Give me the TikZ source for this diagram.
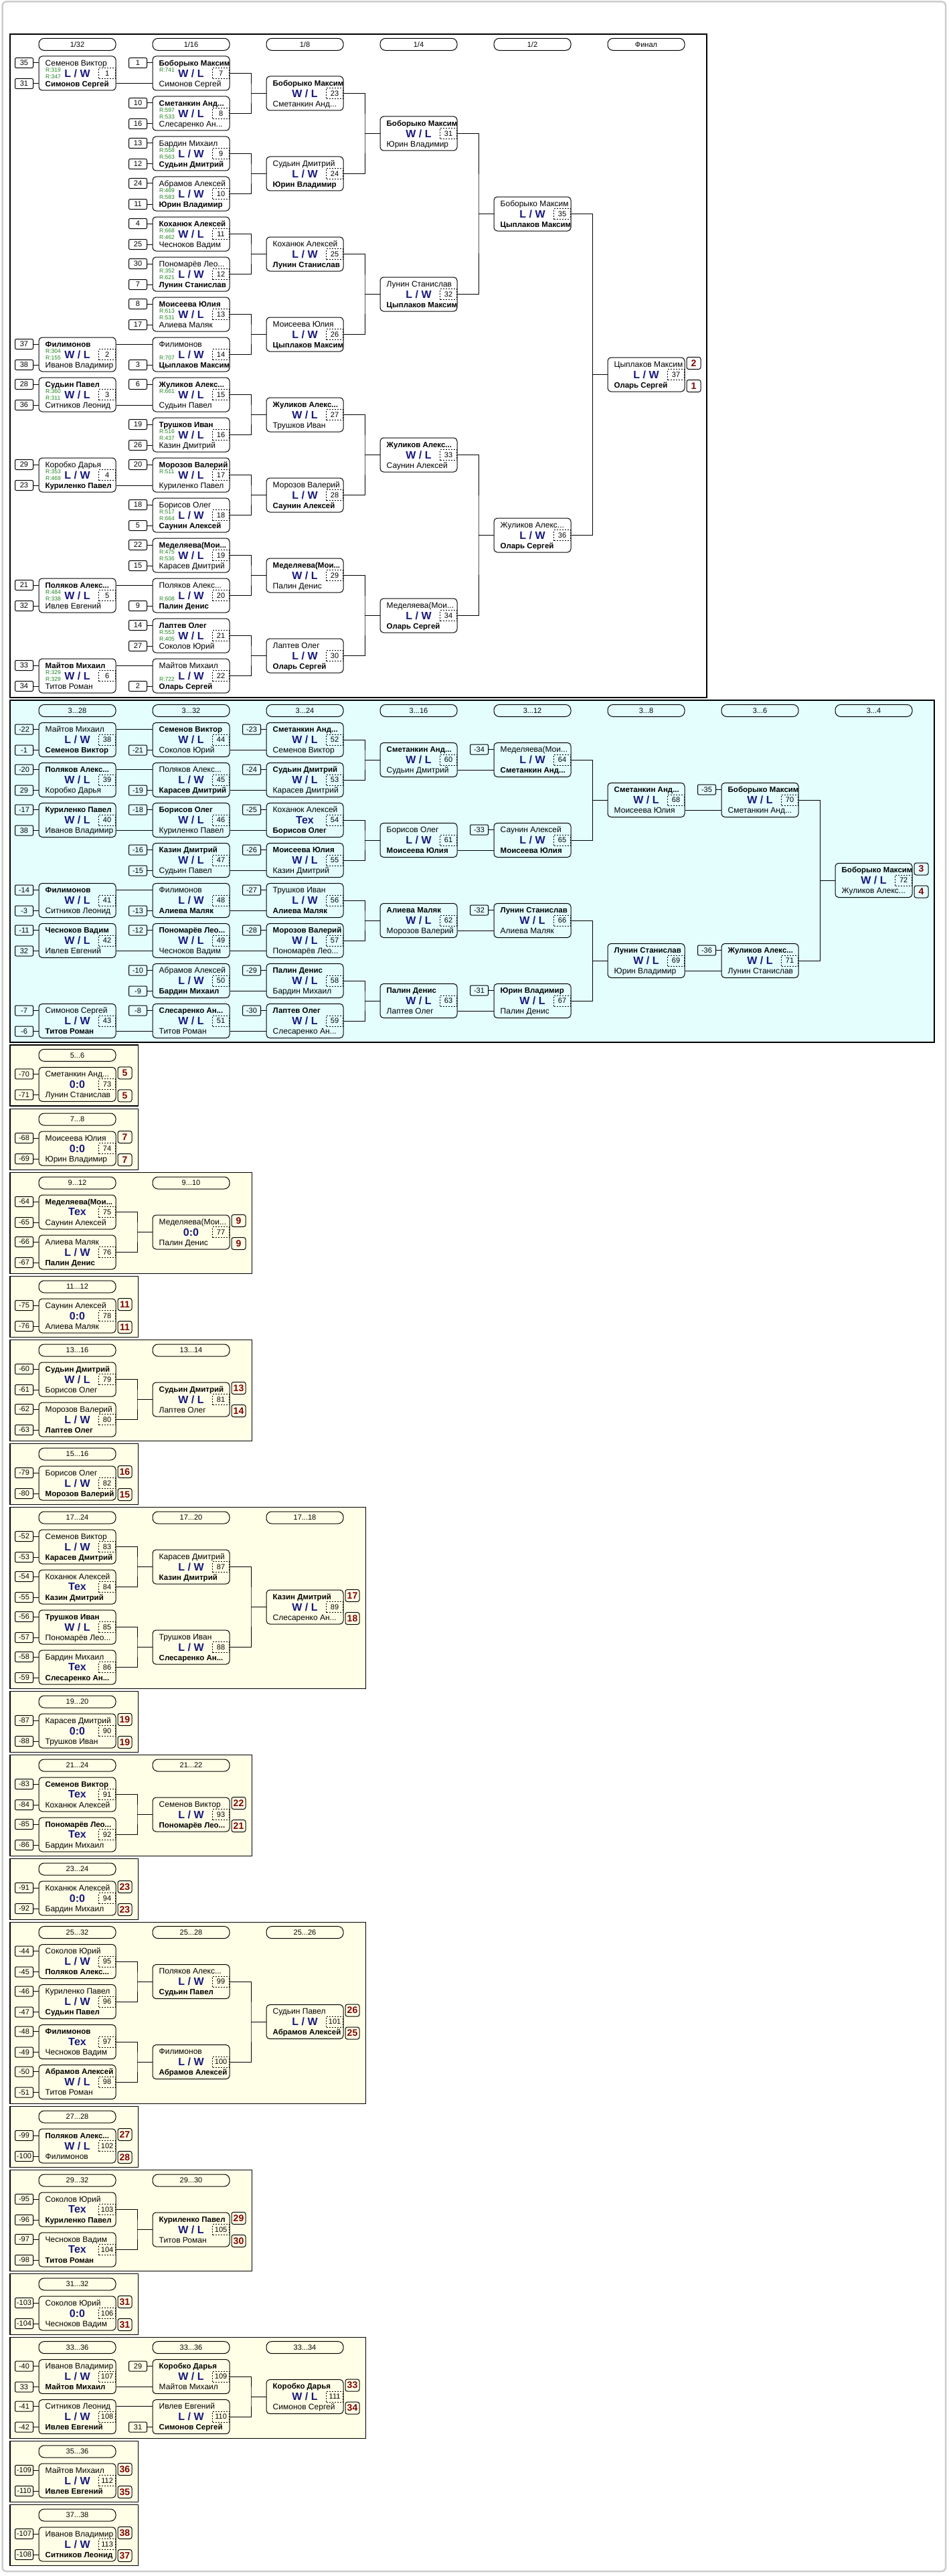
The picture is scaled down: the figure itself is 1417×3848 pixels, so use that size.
\documentclass[tikz,border=0pt]{standalone}
\usepackage{fontspec}
\setmainfont{Liberation Sans}
\usetikzlibrary{calc}
\definecolor{cyanbg}{RGB}{228,253,253}
\definecolor{yelbg}{RGB}{255,255,231}
\definecolor{scorec}{RGB}{25,25,125}
\definecolor{rgreen}{RGB}{30,130,30}
\definecolor{badgec}{RGB}{128,0,0}
\definecolor{pagegray}{RGB}{205,205,205}
\newcommand{\Bn}[1]{{\bfseries\fontsize{11.5}{13}\selectfont #1}}
\tikzset{
 ln/.style={line width=1pt, black},
 mbox/.style={draw, line width=1pt, rounded corners=5pt, minimum width=115pt, minimum height=51pt, inner sep=0pt},
 nm/.style={inner sep=0pt, anchor=base west, font=\fontsize{12}{14}\selectfont},
 sc/.style={inner sep=0pt, text=scorec, font=\bfseries\fontsize{16}{18}\selectfont},
 numbox/.style={draw, line width=0.8pt, dash pattern=on 2pt off 2pt, minimum width=25pt, minimum height=16pt, inner sep=0pt, font=\fontsize{11}{12}\selectfont},
 seedbox/.style={draw, line width=1pt, rounded corners=2pt, minimum width=27pt, minimum height=15pt, inner sep=0pt, font=\fontsize{11}{12}\selectfont},
 rlab/.style={inner sep=0pt, anchor=base west, text=rgreen, font=\fontsize{8.5}{9}\selectfont},
 badge/.style={draw, line width=1pt, rounded corners=3pt, minimum width=21pt, minimum height=18pt, inner sep=0pt, text=badgec, font=\bfseries\fontsize{14}{15}\selectfont},
 pill/.style={draw, line width=1pt, rounded corners=8pt, minimum width=115pt, minimum height=18pt, inner sep=0pt, font=\fontsize{11}{12}\selectfont},
 panel/.style={draw, line width=1.2pt},
}
% match box: x-left, y-top, number, top name, bottom name, score
\newcommand{\xM}[6]{%
 \node[mbox] (m#3) at (#1+57.5,#2+25.5) {};
 \begin{scope}
 \clip (m#3.north west) rectangle (m#3.south east);
 \node[nm] (n#3a) at ([xshift=10pt,yshift=-14.8pt]m#3.north west) {#4};
 \node[nm] (n#3b) at ([xshift=10pt,yshift=6.2pt]m#3.south west) {#5};
 \end{scope}
 \node[sc] (sc#3) at (m#3.center) {#6};
 \node[numbox,anchor=east] (nb#3) at ([xshift=-0.5pt]m#3.east) {#3};
}
\newcommand{\xRT}[2]{\node[rlab] (r#1a) at ([xshift=10.5pt,yshift=-24pt]m#1.north west) {#2};}
\newcommand{\xRB}[2]{\node[rlab] (r#1b) at ([xshift=10.5pt,yshift=-34pt]m#1.north west) {#2};}
\newcommand{\xST}[2]{\node[seedbox] (s#1t) at ([xshift=-21.5pt,yshift=-10.5pt]m#1.north west) {#2};
 \draw[ln] (s#1t.east) -- (s#1t.east -| m#1.west);}
\newcommand{\xSB}[2]{\node[seedbox] (s#1b) at ([xshift=-21.5pt,yshift=10.5pt]m#1.south west) {#2};
 \draw[ln] (s#1b.east) -- (s#1b.east -| m#1.west);}
\newcommand{\xLT}[2]{\path ([yshift=-10.5pt]m#1.north east) coordinate (tmpa);
 \draw[ln] (tmpa) -- (tmpa -| m#2.west);}
\newcommand{\xLB}[2]{\path ([yshift=10.5pt]m#1.south east) coordinate (tmpa);
 \draw[ln] (tmpa) -- (tmpa -| m#2.west);}
\newcommand{\xEL}[3]{\path ([xshift=-22.5pt]m#3.west) coordinate (tmpe);
 \draw[ln] (m#1.east) -| (tmpe) |- (m#2.east); \draw[ln] (tmpe) -- (m#3.west);}
\newcommand{\xBG}[3]{\node[badge] (bg#1a) at ([xshift=13pt,yshift=-9pt]m#1.north east) {#2};
 \node[badge] (bg#1b) at ([xshift=13pt,yshift=9pt]m#1.south east) {#3};}
\newcommand{\xPL}[4]{\node[pill] (#1) at (#2+57.5,#3) {#4};}
\newcommand{\xPN}[3]{\filldraw[panel,fill=yelbg] (15,#1) rectangle (#3,#1+#2);}
\begin{document}
\begin{tikzpicture}[x=1pt,y=-1pt]
\useasboundingbox (0,0) rectangle (1417,3848);
\fill[white] (0,0) rectangle (1417,3848);
\draw[pagegray, line width=2.5pt, rounded corners=6pt] (3.5,2.5) rectangle (1413,3841);
% ================= FRAMES AND PANELS =================
\filldraw[panel,fill=white] (15,51) rectangle (1056,1042);
\filldraw[panel,fill=cyanbg] (15,1046) rectangle (1396,1557);
\xPN{1561}{91}{206.4}
\xPN{1656.7}{91}{206.4}
\xPN{1751.7}{151}{376.4}
\xPN{1906.7}{91}{206.4}
\xPN{2001.7}{151}{376.4}
\xPN{2156.7}{91}{206.4}
\xPN{2251.7}{271}{546.4}
\xPN{2526.7}{91}{206.4}
\xPN{2621.7}{151}{376.4}
\xPN{2776.7}{91}{206.4}
\xPN{2871.3}{271}{546.4}
\xPN{3146.7}{91}{206.4}
\xPN{3241.7}{151}{376.4}
\xPN{3396.7}{91}{206.4}
\xPN{3491.5}{151}{546.4}
\xPN{3646.7}{91}{206.4}
\xPN{3741.7}{91}{206.4}
% ================= MAIN BRACKET =================
\xPL{h1}{58}{66.3}{1/32}
\xPL{h2}{228}{66.3}{1/16}
\xPL{h3}{398}{66.3}{1/8}
\xPL{h4}{568}{66.3}{1/4}
\xPL{h5}{738}{66.3}{1/2}
\xPL{h6}{908}{66.3}{Финал}
% 1/32
\xM{58}{84}{1}{Семенов Виктор}{\Bn{Симонов Сергей}}{L / W}\xRT{1}{R:319}\xRB{1}{R:347}\xST{1}{35}\xSB{1}{31}
\xM{58}{504}{2}{\Bn{Филимонов}}{Иванов Владимир}{W / L}\xRT{2}{R:304}\xRB{2}{R:155}\xST{2}{37}\xSB{2}{38}
\xM{58}{564}{3}{\Bn{Судьин Павел}}{Ситников Леонид}{W / L}\xRT{3}{R:360}\xRB{3}{R:311}\xST{3}{28}\xSB{3}{36}
\xM{58}{684}{4}{Коробко Дарья}{\Bn{Куриленко Павел}}{L / W}\xRT{4}{R:353}\xRB{4}{R:469}\xST{4}{29}\xSB{4}{23}
\xM{58}{864}{5}{\Bn{Поляков Алекс...}}{Ивлев Евгений}{W / L}\xRT{5}{R:484}\xRB{5}{R:338}\xST{5}{21}\xSB{5}{32}
\xM{58}{984}{6}{\Bn{Майтов Михаил}}{Титов Роман}{W / L}\xRT{6}{R:329}\xRB{6}{R:329}\xST{6}{33}\xSB{6}{34}
% 1/16
\xM{228}{84}{7}{\Bn{Боборыко Максим}}{Симонов Сергей}{W / L}\xRT{7}{R:741}\xST{7}{1}
\xM{228}{144}{8}{\Bn{Сметанкин Анд...}}{Слесаренко Ан...}{W / L}\xRT{8}{R:597}\xRB{8}{R:533}\xST{8}{10}\xSB{8}{16}
\xM{228}{204}{9}{Бардин Михаил}{\Bn{Судьин Дмитрий}}{L / W}\xRT{9}{R:558}\xRB{9}{R:563}\xST{9}{13}\xSB{9}{12}
\xM{228}{264}{10}{Абрамов Алексей}{\Bn{Юрин Владимир}}{L / W}\xRT{10}{R:469}\xRB{10}{R:583}\xST{10}{24}\xSB{10}{11}
\xM{228}{324}{11}{\Bn{Коханюк Алексей}}{Чесноков Вадим}{W / L}\xRT{11}{R:668}\xRB{11}{R:462}\xST{11}{4}\xSB{11}{25}
\xM{228}{384}{12}{Пономарёв Лео...}{\Bn{Лунин Станислав}}{L / W}\xRT{12}{R:352}\xRB{12}{R:621}\xST{12}{30}\xSB{12}{7}
\xM{228}{444}{13}{\Bn{Моисеева Юлия}}{Алиева Маляк}{W / L}\xRT{13}{R:613}\xRB{13}{R:531}\xST{13}{8}\xSB{13}{17}
\xM{228}{504}{14}{Филимонов}{\Bn{Цыплаков Максим}}{L / W}\xRB{14}{R:707}\xSB{14}{3}
\xM{228}{564}{15}{\Bn{Жуликов Алекс...}}{Судьин Павел}{W / L}\xRT{15}{R:661}\xST{15}{6}
\xM{228}{624}{16}{\Bn{Трушков Иван}}{Казин Дмитрий}{W / L}\xRT{16}{R:516}\xRB{16}{R:437}\xST{16}{19}\xSB{16}{26}
\xM{228}{684}{17}{\Bn{Морозов Валерий}}{Куриленко Павел}{W / L}\xRT{17}{R:511}\xST{17}{20}
\xM{228}{744}{18}{Борисов Олег}{\Bn{Саунин Алексей}}{L / W}\xRT{18}{R:517}\xRB{18}{R:664}\xST{18}{18}\xSB{18}{5}
\xM{228}{804}{19}{\Bn{Меделяева(Мои...}}{Карасев Дмитрий}{W / L}\xRT{19}{R:475}\xRB{19}{R:536}\xST{19}{22}\xSB{19}{15}
\xM{228}{864}{20}{Поляков Алекс...}{\Bn{Палин Денис}}{L / W}\xRB{20}{R:608}\xSB{20}{9}
\xM{228}{924}{21}{\Bn{Лаптев Олег}}{Соколов Юрий}{W / L}\xRT{21}{R:553}\xRB{21}{R:405}\xST{21}{14}\xSB{21}{27}
\xM{228}{984}{22}{Майтов Михаил}{\Bn{Оларь Сергей}}{L / W}\xRB{22}{R:722}\xSB{22}{2}
% 1/8
\xM{398}{114}{23}{\Bn{Боборыко Максим}}{Сметанкин Анд...}{W / L}
\xM{398}{234}{24}{Судьин Дмитрий}{\Bn{Юрин Владимир}}{L / W}
\xM{398}{354}{25}{Коханюк Алексей}{\Bn{Лунин Станислав}}{L / W}
\xM{398}{474}{26}{Моисеева Юлия}{\Bn{Цыплаков Максим}}{L / W}
\xM{398}{594}{27}{\Bn{Жуликов Алекс...}}{Трушков Иван}{W / L}
\xM{398}{714}{28}{Морозов Валерий}{\Bn{Саунин Алексей}}{L / W}
\xM{398}{834}{29}{\Bn{Меделяева(Мои...}}{Палин Денис}{W / L}
\xM{398}{954}{30}{Лаптев Олег}{\Bn{Оларь Сергей}}{L / W}
% 1/4
\xM{568}{174}{31}{\Bn{Боборыко Максим}}{Юрин Владимир}{W / L}
\xM{568}{414}{32}{Лунин Станислав}{\Bn{Цыплаков Максим}}{L / W}
\xM{568}{654}{33}{\Bn{Жуликов Алекс...}}{Саунин Алексей}{W / L}
\xM{568}{894}{34}{Меделяева(Мои...}{\Bn{Оларь Сергей}}{L / W}
% 1/2
\xM{738}{294}{35}{Боборыко Максим}{\Bn{Цыплаков Максим}}{L / W}
\xM{738}{774}{36}{Жуликов Алекс...}{\Bn{Оларь Сергей}}{L / W}
% final
\xM{908}{534}{37}{Цыплаков Максим}{\Bn{Оларь Сергей}}{L / W}\xBG{37}{2}{1}
% connectors
\xLB{1}{7}\xLT{2}{14}\xLB{3}{15}\xLB{4}{17}\xLT{5}{20}\xLT{6}{22}
\xEL{7}{8}{23}\xEL{9}{10}{24}\xEL{11}{12}{25}\xEL{13}{14}{26}
\xEL{15}{16}{27}\xEL{17}{18}{28}\xEL{19}{20}{29}\xEL{21}{22}{30}
\xEL{23}{24}{31}\xEL{25}{26}{32}\xEL{27}{28}{33}\xEL{29}{30}{34}
\xEL{31}{32}{35}\xEL{33}{34}{36}\xEL{35}{36}{37}
% ================= CONSOLATION (CYAN) =================
\xPL{c1}{58}{1061.5}{3...28}
\xPL{c2}{228}{1061.5}{3...32}
\xPL{c3}{398}{1061.5}{3...24}
\xPL{c4}{568}{1061.5}{3...16}
\xPL{c5}{738}{1061.5}{3...12}
\xPL{c6}{908}{1061.5}{3...8}
\xPL{c7}{1078}{1061.5}{3...6}
\xPL{c8}{1248}{1061.5}{3...4}
\xM{58}{1079.5}{38}{Майтов Михаил}{\Bn{Семенов Виктор}}{L / W}\xST{38}{-22}\xSB{38}{-1}
\xM{58}{1139.5}{39}{\Bn{Поляков Алекс...}}{Коробко Дарья}{W / L}\xST{39}{-20}\xSB{39}{29}
\xM{58}{1199.5}{40}{\Bn{Куриленко Павел}}{Иванов Владимир}{W / L}\xST{40}{-17}\xSB{40}{38}
\xM{58}{1319.5}{41}{\Bn{Филимонов}}{Ситников Леонид}{W / L}\xST{41}{-14}\xSB{41}{-3}
\xM{58}{1379.5}{42}{\Bn{Чесноков Вадим}}{Ивлев Евгений}{W / L}\xST{42}{-11}\xSB{42}{32}
\xM{58}{1499.5}{43}{Симонов Сергей}{\Bn{Титов Роман}}{L / W}\xST{43}{-7}\xSB{43}{-6}
\xM{228}{1079.5}{44}{\Bn{Семенов Виктор}}{Соколов Юрий}{W / L}\xSB{44}{-21}
\xM{228}{1139.5}{45}{Поляков Алекс...}{\Bn{Карасев Дмитрий}}{L / W}\xSB{45}{-19}
\xM{228}{1199.5}{46}{\Bn{Борисов Олег}}{Куриленко Павел}{W / L}\xST{46}{-18}
\xM{228}{1259.5}{47}{\Bn{Казин Дмитрий}}{Судьин Павел}{W / L}\xST{47}{-16}\xSB{47}{-15}
\xM{228}{1319.5}{48}{Филимонов}{\Bn{Алиева Маляк}}{L / W}\xSB{48}{-13}
\xM{228}{1379.5}{49}{\Bn{Пономарёв Лео...}}{Чесноков Вадим}{W / L}\xST{49}{-12}
\xM{228}{1439.5}{50}{Абрамов Алексей}{\Bn{Бардин Михаил}}{L / W}\xST{50}{-10}\xSB{50}{-9}
\xM{228}{1499.5}{51}{\Bn{Слесаренко Ан...}}{Титов Роман}{W / L}\xST{51}{-8}
\xM{398}{1079.5}{52}{\Bn{Сметанкин Анд...}}{Семенов Виктор}{W / L}\xST{52}{-23}
\xM{398}{1139.5}{53}{\Bn{Судьин Дмитрий}}{Карасев Дмитрий}{W / L}\xST{53}{-24}
\xM{398}{1199.5}{54}{Коханюк Алексей}{\Bn{Борисов Олег}}{Тех}\xST{54}{-25}
\xM{398}{1259.5}{55}{\Bn{Моисеева Юлия}}{Казин Дмитрий}{W / L}\xST{55}{-26}
\xM{398}{1319.5}{56}{Трушков Иван}{\Bn{Алиева Маляк}}{L / W}\xST{56}{-27}
\xM{398}{1379.5}{57}{\Bn{Морозов Валерий}}{Пономарёв Лео...}{W / L}\xST{57}{-28}
\xM{398}{1439.5}{58}{\Bn{Палин Денис}}{Бардин Михаил}{W / L}\xST{58}{-29}
\xM{398}{1499.5}{59}{\Bn{Лаптев Олег}}{Слесаренко Ан...}{W / L}\xST{59}{-30}
\xM{568}{1109.5}{60}{\Bn{Сметанкин Анд...}}{Судьин Дмитрий}{W / L}
\xM{568}{1229.5}{61}{Борисов Олег}{\Bn{Моисеева Юлия}}{L / W}
\xM{568}{1349.5}{62}{\Bn{Алиева Маляк}}{Морозов Валерий}{W / L}
\xM{568}{1469.5}{63}{\Bn{Палин Денис}}{Лаптев Олег}{W / L}
\xM{738}{1109.5}{64}{Меделяева(Мои...}{\Bn{Сметанкин Анд...}}{L / W}\xST{64}{-34}
\xM{738}{1229.5}{65}{Саунин Алексей}{\Bn{Моисеева Юлия}}{L / W}\xST{65}{-33}
\xM{738}{1349.5}{66}{\Bn{Лунин Станислав}}{Алиева Маляк}{W / L}\xST{66}{-32}
\xM{738}{1469.5}{67}{\Bn{Юрин Владимир}}{Палин Денис}{W / L}\xST{67}{-31}
\xM{908}{1169.5}{68}{\Bn{Сметанкин Анд...}}{Моисеева Юлия}{W / L}
\xM{908}{1409.5}{69}{\Bn{Лунин Станислав}}{Юрин Владимир}{W / L}
\xM{1078}{1169.5}{70}{\Bn{Боборыко Максим}}{Сметанкин Анд...}{W / L}\xST{70}{-35}
\xM{1078}{1409.5}{71}{\Bn{Жуликов Алекс...}}{Лунин Станислав}{W / L}\xST{71}{-36}
\xM{1248}{1289.5}{72}{\Bn{Боборыко Максим}}{Жуликов Алекс...}{W / L}\xBG{72}{3}{4}
\xLT{38}{44}\xLT{39}{45}\xLB{40}{46}\xLT{41}{48}\xLB{42}{49}\xLB{43}{51}
\xLB{44}{52}\xLB{45}{53}\xLB{46}{54}\xLB{47}{55}\xLB{48}{56}\xLB{49}{57}\xLB{50}{58}\xLB{51}{59}
\xEL{52}{53}{60}\xEL{54}{55}{61}\xEL{56}{57}{62}\xEL{58}{59}{63}
\xLB{60}{64}\xLB{61}{65}\xLB{62}{66}\xLB{63}{67}
\xEL{64}{65}{68}\xEL{66}{67}{69}
\xLB{68}{70}\xLB{69}{71}
\xEL{70}{71}{72}
% ================= PLACEMENT PANELS =================
% 5..6
\xPL{q1}{58}{1576.3}{5...6}
\xM{58}{1594.3}{73}{Сметанкин Анд...}{Лунин Станислав}{0:0}\xST{73}{-70}\xSB{73}{-71}\xBG{73}{5}{5}
% 7..8
\xPL{q2}{58}{1672}{7...8}
\xM{58}{1690}{74}{Моисеева Юлия}{Юрин Владимир}{0:0}\xST{74}{-68}\xSB{74}{-69}\xBG{74}{7}{7}
% 9..12
\xPL{q3}{58}{1767}{9...12}\xPL{q4}{228}{1767}{9...10}
\xM{58}{1785}{75}{\Bn{Меделяева(Мои...}}{Саунин Алексей}{Тех}\xST{75}{-64}\xSB{75}{-65}
\xM{58}{1845}{76}{Алиева Маляк}{\Bn{Палин Денис}}{L / W}\xST{76}{-66}\xSB{76}{-67}
\xM{228}{1815}{77}{Меделяева(Мои...}{Палин Денис}{0:0}\xBG{77}{9}{9}
\xEL{75}{76}{77}
% 11..12
\xPL{q5}{58}{1922}{11...12}
\xM{58}{1940}{78}{Саунин Алексей}{Алиева Маляк}{0:0}\xST{78}{-75}\xSB{78}{-76}\xBG{78}{11}{11}
% 13..16
\xPL{q6}{58}{2017}{13...16}\xPL{q7}{228}{2017}{13...14}
\xM{58}{2035}{79}{\Bn{Судьин Дмитрий}}{Борисов Олег}{W / L}\xST{79}{-60}\xSB{79}{-61}
\xM{58}{2095}{80}{Морозов Валерий}{\Bn{Лаптев Олег}}{L / W}\xST{80}{-62}\xSB{80}{-63}
\xM{228}{2065}{81}{\Bn{Судьин Дмитрий}}{Лаптев Олег}{W / L}\xBG{81}{13}{14}
\xEL{79}{80}{81}
% 15..16
\xPL{q8}{58}{2172}{15...16}
\xM{58}{2190}{82}{Борисов Олег}{\Bn{Морозов Валерий}}{L / W}\xST{82}{-79}\xSB{82}{-80}\xBG{82}{16}{15}
% 17..24
\xPL{q9}{58}{2267}{17...24}\xPL{q10}{228}{2267}{17...20}\xPL{q11}{398}{2267}{17...18}
\xM{58}{2285}{83}{Семенов Виктор}{\Bn{Карасев Дмитрий}}{L / W}\xST{83}{-52}\xSB{83}{-53}
\xM{58}{2345}{84}{Коханюк Алексей}{\Bn{Казин Дмитрий}}{Тех}\xST{84}{-54}\xSB{84}{-55}
\xM{58}{2405}{85}{\Bn{Трушков Иван}}{Пономарёв Лео...}{W / L}\xST{85}{-56}\xSB{85}{-57}
\xM{58}{2465}{86}{Бардин Михаил}{\Bn{Слесаренко Ан...}}{Тех}\xST{86}{-58}\xSB{86}{-59}
\xM{228}{2315}{87}{Карасев Дмитрий}{\Bn{Казин Дмитрий}}{L / W}
\xM{228}{2435}{88}{Трушков Иван}{\Bn{Слесаренко Ан...}}{L / W}
\xM{398}{2375}{89}{\Bn{Казин Дмитрий}}{Слесаренко Ан...}{W / L}\xBG{89}{17}{18}
\xEL{83}{84}{87}\xEL{85}{86}{88}\xEL{87}{88}{89}
% 19..20
\xPL{q12}{58}{2542}{19...20}
\xM{58}{2560}{90}{Карасев Дмитрий}{Трушков Иван}{0:0}\xST{90}{-87}\xSB{90}{-88}\xBG{90}{19}{19}
% 21..24
\xPL{q13}{58}{2637}{21...24}\xPL{q14}{228}{2637}{21...22}
\xM{58}{2655}{91}{\Bn{Семенов Виктор}}{Коханюк Алексей}{Тех}\xST{91}{-83}\xSB{91}{-84}
\xM{58}{2715}{92}{\Bn{Пономарёв Лео...}}{Бардин Михаил}{Тех}\xST{92}{-85}\xSB{92}{-86}
\xM{228}{2685}{93}{Семенов Виктор}{\Bn{Пономарёв Лео...}}{L / W}\xBG{93}{22}{21}
\xEL{91}{92}{93}
% 23..24
\xPL{q15}{58}{2792}{23...24}
\xM{58}{2810}{94}{Коханюк Алексей}{Бардин Михаил}{0:0}\xST{94}{-91}\xSB{94}{-92}\xBG{94}{23}{23}
% 25..32
\xPL{q16}{58}{2886.6}{25...32}\xPL{q17}{228}{2886.6}{25...28}\xPL{q18}{398}{2886.6}{25...26}
\xM{58}{2904.6}{95}{Соколов Юрий}{\Bn{Поляков Алекс...}}{L / W}\xST{95}{-44}\xSB{95}{-45}
\xM{58}{2964.6}{96}{Куриленко Павел}{\Bn{Судьин Павел}}{L / W}\xST{96}{-46}\xSB{96}{-47}
\xM{58}{3024.6}{97}{\Bn{Филимонов}}{Чесноков Вадим}{Тех}\xST{97}{-48}\xSB{97}{-49}
\xM{58}{3084.6}{98}{\Bn{Абрамов Алексей}}{Титов Роман}{W / L}\xST{98}{-50}\xSB{98}{-51}
\xM{228}{2934.6}{99}{Поляков Алекс...}{\Bn{Судьин Павел}}{L / W}
\xM{228}{3054.6}{100}{Филимонов}{\Bn{Абрамов Алексей}}{L / W}
\xM{398}{2994.6}{101}{Судьин Павел}{\Bn{Абрамов Алексей}}{L / W}\xBG{101}{26}{25}
\xEL{95}{96}{99}\xEL{97}{98}{100}\xEL{99}{100}{101}
% 27..28
\xPL{q19}{58}{3162}{27...28}
\xM{58}{3180}{102}{\Bn{Поляков Алекс...}}{Филимонов}{W / L}\xST{102}{-99}\xSB{102}{-100}\xBG{102}{27}{28}
% 29..32
\xPL{q20}{58}{3257}{29...32}\xPL{q21}{228}{3257}{29...30}
\xM{58}{3275}{103}{Соколов Юрий}{\Bn{Куриленко Павел}}{Тех}\xST{103}{-95}\xSB{103}{-96}
\xM{58}{3335}{104}{Чесноков Вадим}{\Bn{Титов Роман}}{Тех}\xST{104}{-97}\xSB{104}{-98}
\xM{228}{3305}{105}{\Bn{Куриленко Павел}}{Титов Роман}{W / L}\xBG{105}{29}{30}
\xEL{103}{104}{105}
% 31..32
\xPL{q22}{58}{3412}{31...32}
\xM{58}{3430}{106}{Соколов Юрий}{Чесноков Вадим}{0:0}\xST{106}{-103}\xSB{106}{-104}\xBG{106}{31}{31}
% 33..36
\xPL{q23}{58}{3506.6}{33...36}\xPL{q24}{228}{3506.6}{33...36}\xPL{q25}{398}{3506.6}{33...34}
\xM{58}{3524.6}{107}{Иванов Владимир}{\Bn{Майтов Михаил}}{L / W}\xST{107}{-40}\xSB{107}{33}
\xM{58}{3584.6}{108}{Ситников Леонид}{\Bn{Ивлев Евгений}}{L / W}\xST{108}{-41}\xSB{108}{-42}
\xM{228}{3524.6}{109}{\Bn{Коробко Дарья}}{Майтов Михаил}{W / L}\xST{109}{29}
\xM{228}{3584.6}{110}{Ивлев Евгений}{\Bn{Симонов Сергей}}{L / W}\xSB{110}{31}
\xM{398}{3554.6}{111}{\Bn{Коробко Дарья}}{Симонов Сергей}{W / L}\xBG{111}{33}{34}
\xLB{107}{109}\xLT{108}{110}\xEL{109}{110}{111}
% 35..36
\xPL{q26}{58}{3662}{35...36}
\xM{58}{3680}{112}{Майтов Михаил}{\Bn{Ивлев Евгений}}{L / W}\xST{112}{-109}\xSB{112}{-110}\xBG{112}{36}{35}
% 37..38
\xPL{q27}{58}{3757}{37...38}
\xM{58}{3775}{113}{Иванов Владимир}{\Bn{Ситников Леонид}}{L / W}\xST{113}{-107}\xSB{113}{-108}\xBG{113}{38}{37}
\end{tikzpicture}
\end{document}
